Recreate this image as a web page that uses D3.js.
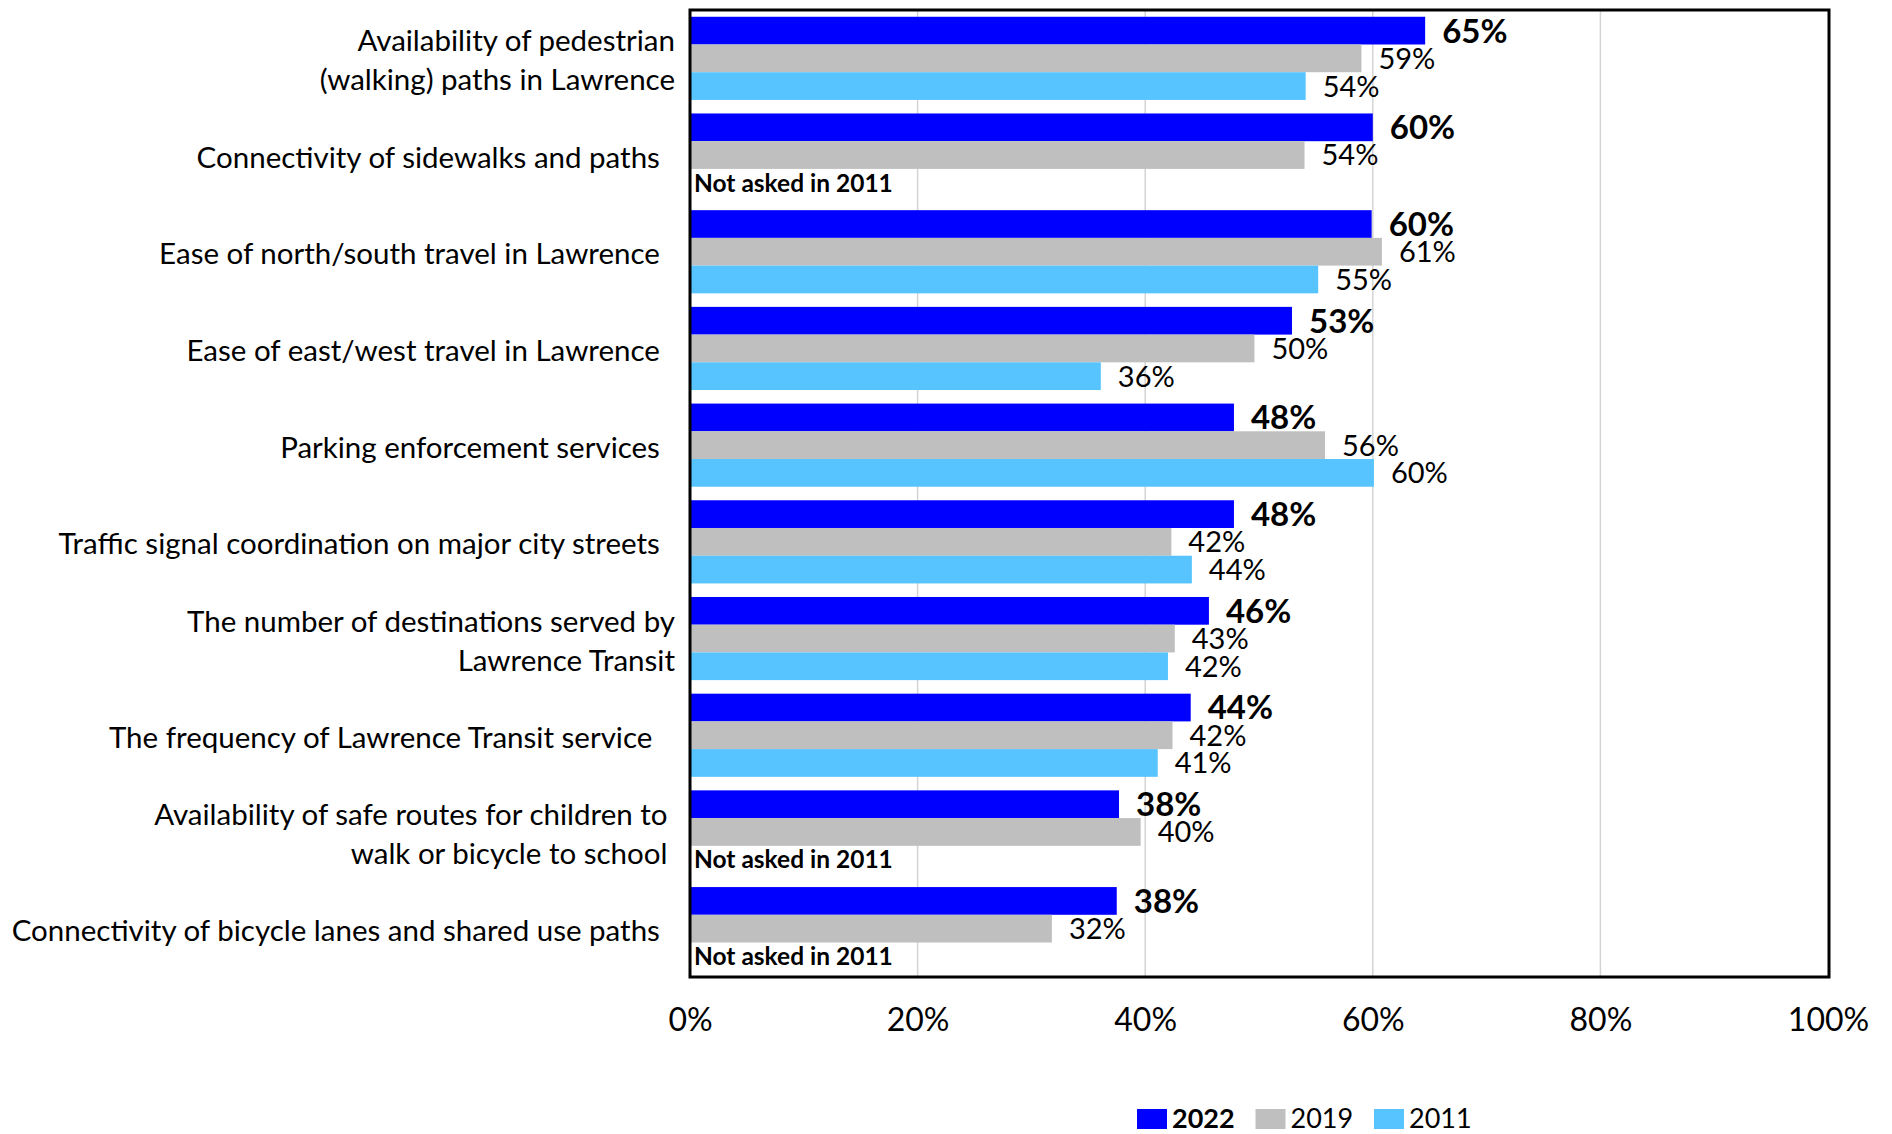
<!DOCTYPE html>
<html>
<head>
<meta charset="utf-8">
<script src="https://cdn.jsdelivr.net/npm/d3@7"></script>
<style>
  html, body { margin: 0; padding: 0; background: #fff; }
  svg text { font-family: Lato, "Open Sans", sans-serif; white-space: pre; fill: #000; }
</style>
</head>
<body>
<svg id="chart" width="1892" height="1134"></svg>
<script>
const categories = [
  "Availability of pedestrian\n(walking) paths in Lawrence",
  "Connectivity of sidewalks and paths  ",
  "Ease of north/south travel in Lawrence  ",
  "Ease of east/west travel in Lawrence  ",
  "Parking enforcement services  ",
  "Traffic signal coordination on major city streets  ",
  "The number of destinations served by\nLawrence Transit",
  "The frequency of Lawrence Transit service   ",
  "Availability of safe routes for children to \nwalk or bicycle to school ",
  "Connectivity of bicycle lanes and shared use paths  "
];
const seriesNames = ["2022", "2019", "2011"];
const values2022 = [64.6, 60.0, 59.9, 52.9, 47.8, 47.8, 45.6, 44.0, 37.7, 37.5];
const values2019 = [59.0, 54.0, 60.8, 49.6, 55.8, 42.3, 42.6, 42.4, 39.6, 31.8];
const values2011 = [54.1, null, 55.2, 36.1, 60.1, 44.1, 42.0, 41.1, null, null];
const missingNote = "Not asked in 2011";
const tickValues = [0, 20, 40, 60, 80, 100];
const tickLabels = ["0%", "20%", "40%", "60%", "80%", "100%"];

const colors = { "2022": "#0000FF", "2019": "#BFBFBF", "2011": "#58C4FF" };
const seriesValues = { "2022": values2022, "2019": values2019, "2011": values2011 };

const svg = d3.select("#chart");
const plot = { left: 690, right: 1828, top: 10, bottom: 977 };

const x = d3.scaleLinear().domain([0, 100]).range([plot.left, plot.right]);
const y = d3.scaleBand().domain(d3.range(categories.length))
  .range([plot.top, plot.bottom]).paddingInner(0.14).paddingOuter(0.07);
const ySub = d3.scaleBand().domain(seriesNames).range([0, y.bandwidth()]).padding(0);

// gridlines
svg.append("g").selectAll("line")
  .data(tickValues.filter(t => t > 0 && t < 100))
  .join("line")
  .attr("x1", d => x(d)).attr("x2", d => x(d))
  .attr("y1", plot.top).attr("y2", plot.bottom)
  .attr("stroke", "#d4d4d4").attr("stroke-width", 1.5);

// bars
const rows = [];
categories.forEach((c, i) => {
  seriesNames.forEach(s => {
    rows.push({ i, s, v: seriesValues[s][i] });
  });
});

const g = svg.append("g");
g.selectAll("rect.bar")
  .data(rows.filter(r => r.v != null))
  .join("rect")
  .attr("class", "bar")
  .attr("x", x(0))
  .attr("y", d => y(d.i) + ySub(d.s))
  .attr("width", d => x(d.v) - x(0))
  .attr("height", ySub.bandwidth())
  .attr("fill", d => colors[d.s]);

// value labels
g.selectAll("text.val")
  .data(rows.filter(r => r.v != null))
  .join("text")
  .attr("class", "val")
  .attr("x", d => x(d.v) + 17)
  .attr("y", d => y(d.i) + ySub(d.s) + ySub.bandwidth() / 2)
  .attr("dy", "0.36em")
  .attr("font-size", d => d.s === "2022" ? 33 : 29)
  .attr("font-weight", d => d.s === "2022" ? 700 : 400)
  .text(d => Math.round(d.v) + "%");

// missing notes
g.selectAll("text.miss")
  .data(rows.filter(r => r.v == null))
  .join("text")
  .attr("class", "miss")
  .attr("x", x(0) + 4)
  .attr("y", d => y(d.i) + ySub(d.s) + ySub.bandwidth() / 2)
  .attr("dy", "0.36em")
  .attr("font-size", 24.5)
  .attr("font-weight", 700)
  .text(missingNote);

// category labels
const lineH = 39;
const catG = svg.append("g");
categories.forEach((c, i) => {
  const lines = c.split("\n");
  const cy = y(i) + y.bandwidth() / 2 + 2;
  const t = catG.append("text")
    .attr("text-anchor", "end")
    .attr("font-size", 29.5);
  lines.forEach((ln, k) => {
    t.append("tspan")
      .attr("x", 675)
      .attr("y", cy + (k - (lines.length - 1) / 2) * lineH)
      .attr("dy", "0.36em")
      .text(ln);
  });
});

// x axis
const xAxis = d3.axisBottom(x).tickValues(tickValues)
  .tickFormat((d, i) => tickLabels[i]).tickSize(0).tickPadding(0);
const ax = svg.append("g").attr("transform", `translate(0, ${plot.bottom})`).call(xAxis);
ax.select(".domain").remove();
ax.selectAll("text")
  .attr("font-size", 32)
  .attr("y", 54)
  .attr("dy", 0)
  .style("font-family", "Lato, sans-serif")
  .attr("fill", "#000");

// frame
svg.append("rect")
  .attr("x", plot.left).attr("y", plot.top)
  .attr("width", plot.right + 1 - plot.left).attr("height", plot.bottom - plot.top)
  .attr("fill", "none").attr("stroke", "#000").attr("stroke-width", 3);

// legend
const legend = svg.append("g").attr("transform", "translate(1137, 1109)");
const items = legend.selectAll("g").data(seriesNames).join("g")
  .attr("transform", (d, i) => `translate(${i * 118.5}, 0)`);
items.append("rect").attr("width", 30).attr("height", 20).attr("fill", d => colors[d]);
items.append("text")
  .attr("x", 35).attr("y", 19)
  .attr("font-size", 27)
  .attr("font-weight", d => d === "2022" ? 700 : 400)
  .text(d => d);
</script>
</body>
</html>
